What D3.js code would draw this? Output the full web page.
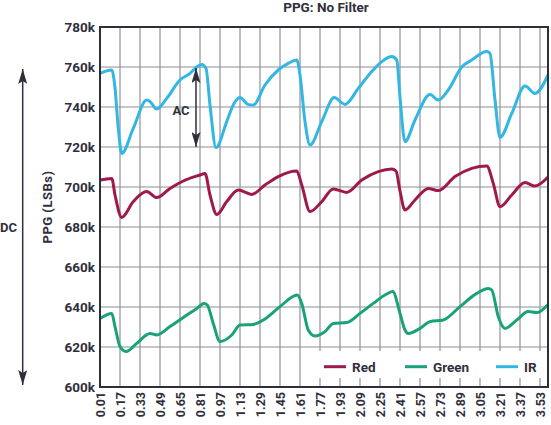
<!DOCTYPE html>
<html>
<head>
<meta charset="utf-8">
<script src="https://cdn.jsdelivr.net/npm/d3@7"></script>
<style>
  body { margin: 0; background: #fff; }
  svg { display: block; font-family: Roboto, "Noto Sans", sans-serif; }
</style>
</head>
<body>
<svg width="551" height="425"></svg>
<script>
// values in k LSBs, time in seconds
const irTime = [0.01, 0.104, 0.13, 0.156, 0.184, 0.276, 0.384, 0.41, 0.464, 0.544, 0.65, 0.73, 0.784, 0.824, 0.858, 0.89, 0.938,
  1.024, 1.076, 1.13, 1.194, 1.236, 1.33, 1.436, 1.516, 1.584, 1.61, 1.65, 1.69, 1.784, 1.884, 1.97, 2.076, 2.184, 2.264,
  2.344, 2.384, 2.41, 2.45, 2.53, 2.65, 2.716, 2.796, 2.904, 2.984, 3.104, 3.13, 3.17, 3.21, 3.304, 3.41, 3.49, 3.594];
const irValues = [756.8, 758.5, 749.5, 729.5, 716.8, 729.3, 743.5, 742.7, 739, 744.3, 753.5, 756.8, 760, 761.3, 759.3, 741, 719.7,
  732.7, 741, 744.7, 741.3, 741, 751, 758.5, 761.8, 763.5, 756, 732.7, 721, 732.7, 744.7, 741.3, 749.3, 757.7, 762.7,
  765.2, 763.5, 745, 722.7, 733.5, 746.3, 743.5, 748.5, 760, 763.5, 767.7, 766.8, 743.5, 724.8, 736.8, 750.5, 746.8, 756];

const redTime = [0.01, 0.104, 0.13, 0.184, 0.276, 0.384, 0.464, 0.57, 0.676, 0.81, 0.85, 0.89, 0.944, 1.024, 1.116, 1.224,
  1.33, 1.436, 1.584, 1.624, 1.69, 1.784, 1.876, 1.984, 2.104, 2.236, 2.344, 2.378, 2.41, 2.45, 2.53, 2.636, 2.716,
  2.85, 2.984, 3.104, 3.156, 3.21, 3.304, 3.41, 3.49, 3.594];
const redValues = [703.5, 704.3, 696, 684.8, 692.7, 697.7, 694.7, 699.3, 703, 706, 706.8, 696, 686.3, 692.7, 698.5, 696.3,
  701, 705.2, 708, 701, 687.7, 692.7, 699, 697.3, 703.5, 707.7, 709, 708, 698, 688.5, 693.5, 699.3, 698.2,
  705.2, 709.3, 710.5, 701.8, 690.2, 696, 702.2, 700.5, 705];

const greenTime = [0.01, 0.104, 0.13, 0.17, 0.218, 0.304, 0.41, 0.464, 0.57, 0.676, 0.784, 0.842, 0.868, 0.916, 0.97, 1.064,
  1.13, 1.236, 1.316, 1.45, 1.588, 1.624, 1.676, 1.73, 1.81, 1.876, 1.984, 2.09, 2.196, 2.304, 2.352, 2.41, 2.45, 2.476,
  2.57, 2.65, 2.756, 2.89, 3.024, 3.116, 3.144, 3.196, 3.25, 3.344, 3.436, 3.504, 3.594];
const greenValues = [634.3, 636.8, 630.2, 620.2, 617.7, 621.8, 626.8, 626, 630.2, 634.8, 639.3, 641.8, 641, 631.8, 622.7, 626,
  631, 631.3, 633.5, 640.2, 646, 641.8, 628.5, 625.5, 627.7, 631.8, 632.2, 636.8, 641.8, 646.5, 647.7, 636.8, 628.5, 626.8,
  629.3, 632.7, 633.5, 640.2, 646.8, 649.3, 648.5, 635.2, 629.3, 633.5, 637.7, 637.2, 641.3];

const xTickLabels = ["0.01", "0.17", "0.33", "0.49", "0.65", "0.81", "0.97", "1.13", "1.29", "1.45", "1.61", "1.77",
  "1.93", "2.09", "2.25", "2.41", "2.57", "2.73", "2.89", "3.05", "3.21", "3.37", "3.53"];
const yTicks = [600, 620, 640, 660, 680, 700, 720, 740, 760, 780];

const seriesNames = ["Red", "Green", "IR"];
const seriesColors = ["#a0194b", "#19a278", "#32b7e2"];

const ink = "#2f2f3c";
const svg = d3.select("svg");
const margin = {left: 100, top: 27, right: 3, bottom: 38};
const W = 551 - margin.left - margin.right;
const H = 425 - margin.top - margin.bottom;

const x = d3.scaleLinear().domain([0.01, 3.594]).range([0, W]);
const y = d3.scaleLinear().domain([600, 780]).range([H, 0]);

const g = svg.append("g").attr("transform", `translate(${margin.left},${margin.top})`);

// grid
const xTickVals = xTickLabels.map(Number);
g.append("g").selectAll("line").data(xTickVals).enter().append("line")
  .attr("x1", d => x(d)).attr("x2", d => x(d)).attr("y1", 0).attr("y2", H)
  .attr("stroke", "#8f8f98").attr("stroke-width", 1.2);
g.append("g").selectAll("line").data(yTicks).enter().append("line")
  .attr("x1", 0).attr("x2", W).attr("y1", d => y(d)).attr("y2", d => y(d))
  .attr("stroke", "#8f8f98").attr("stroke-width", 1.2);

// legend box hides the grid behind it
g.append("rect").attr("x", 316 - margin.left).attr("y", 351 - margin.top)
  .attr("width", W - (316 - margin.left)).attr("height", 27).attr("fill", "#fff");

// series
const line = d3.line().x(d => x(d[0])).y(d => y(d[1])).curve(d3.curveMonotoneX);
const series = [
  d3.zip(redTime, redValues),
  d3.zip(greenTime, greenValues),
  d3.zip(irTime, irValues)
];
series.forEach((pts, i) => {
  g.append("path").datum(pts)
    .attr("d", line)
    .attr("fill", "none")
    .attr("stroke", seriesColors[i])
    .attr("stroke-width", 3)
    .attr("stroke-linejoin", "round");
});

// frame
g.append("rect").attr("width", W).attr("height", H)
  .attr("fill", "none").attr("stroke", ink).attr("stroke-width", 2);

// y axis
const yAxis = g.append("g").call(d3.axisLeft(y).tickValues(yTicks).tickSize(0).tickPadding(5).tickFormat(d => d + "k"));
yAxis.select(".domain").remove();
yAxis.selectAll("text").attr("font-size", 13.5).attr("font-weight", 700).attr("fill", ink)
  .attr("font-family", "Roboto, sans-serif");

// x axis
const xAxis = g.append("g").attr("transform", `translate(0,${H})`)
  .call(d3.axisBottom(x).tickValues(xTickVals).tickSize(0).tickFormat((d, i) => xTickLabels[i]));
xAxis.select(".domain").remove();
xAxis.selectAll("text")
  .attr("transform", "rotate(-90)")
  .attr("text-anchor", "end")
  .attr("x", -5).attr("y", 0).attr("dy", "0.35em")
  .attr("font-size", 12.5).attr("font-weight", 700).attr("fill", ink)
  .attr("font-family", "Roboto, sans-serif");

// legend
const legend = g.append("g").attr("transform", `translate(${324 - margin.left},${366.7 - margin.top})`);
const legendX = [0, 81, 172];
seriesNames.forEach((name, i) => {
  const row = legend.append("g").attr("transform", `translate(${legendX[i]},0)`);
  row.append("line").attr("x1", 0).attr("x2", 22).attr("stroke", seriesColors[i]).attr("stroke-width", 3);
  row.append("text").attr("x", 28).attr("dy", "0.36em")
    .attr("font-size", 13.5).attr("font-weight", 700).attr("fill", ink).text(name);
});

// title
svg.append("text").attr("x", margin.left + W / 2 + 2).attr("y", 12).attr("text-anchor", "middle")
  .attr("font-size", 13.5).attr("font-weight", 700).attr("fill", ink).text("PPG: No Filter");

// y label
svg.append("text").attr("transform", `translate(52,${margin.top + H / 2}) rotate(-90)`)
  .attr("text-anchor", "middle").attr("font-size", 13).attr("font-weight", 700).attr("fill", ink)
  .attr("letter-spacing", 0.5).text("PPG (LSBs)");

// DC and AC arrows
svg.append("defs").append("marker").attr("id", "head")
  .attr("viewBox", "0 0 15 9").attr("refX", 15).attr("refY", 4.5)
  .attr("markerWidth", 15).attr("markerHeight", 9).attr("markerUnits", "userSpaceOnUse")
  .attr("orient", "auto-start-reverse")
  .append("path").attr("d", "M0,0 L15,4.5 L0,9 L3,4.5 Z").attr("fill", ink);

svg.append("line").attr("x1", 22.7).attr("x2", 22.7).attr("y1", 69).attr("y2", 385)
  .attr("stroke", ink).attr("stroke-width", 1.5)
  .attr("marker-start", "url(#head)").attr("marker-end", "url(#head)");
svg.append("text").attr("x", 0).attr("y", 227).attr("dy", "0.35em")
  .attr("font-size", 13).attr("font-weight", 700).attr("fill", ink).text("DC");

svg.append("line").attr("x1", 196).attr("x2", 196).attr("y1", 68).attr("y2", 147)
  .attr("stroke", ink).attr("stroke-width", 1.5)
  .attr("marker-start", "url(#head)").attr("marker-end", "url(#head)");
svg.append("text").attr("x", 181).attr("y", 110).attr("dy", "0.35em").attr("text-anchor", "middle")
  .attr("font-size", 13).attr("font-weight", 700).attr("fill", ink).text("AC");
</script>
</body>
</html>
